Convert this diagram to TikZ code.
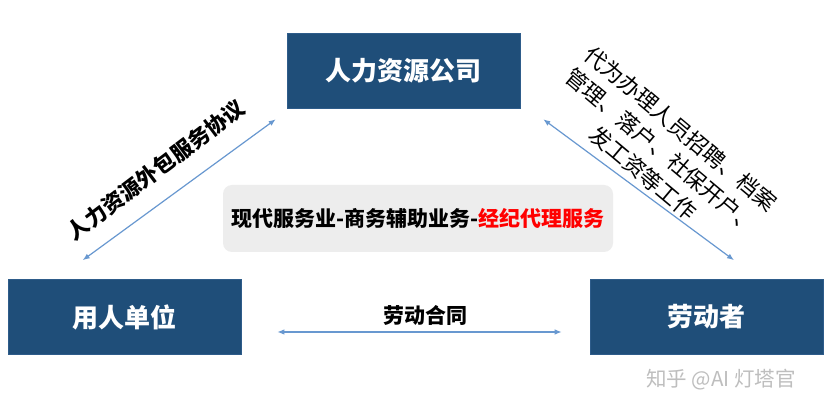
\documentclass[tikz,border=0pt]{standalone}
\usepackage{fontspec}
\setmainfont{Noto Sans CJK SC}
\usetikzlibrary{arrows.meta}
\definecolor{boxblue}{RGB}{31,78,121}
\definecolor{boxedge}{RGB}{46,92,138}
\definecolor{arrowblue}{RGB}{104,152,208}
\definecolor{graybox}{RGB}{237,237,237}
\definecolor{wmgray}{RGB}{190,190,190}
\tikzset{
  bluebox/.style={draw=boxedge, line width=0.6pt, fill=boxblue, text=white,
    minimum width=233pt, minimum height=75pt, inner sep=0pt,
    font=\fontsize{26}{30}\selectfont\bfseries},
  biarrow/.style={draw=arrowblue, line width=1.2pt,
    {Latex[length=7pt,width=5.5pt]}-{Latex[length=7pt,width=5.5pt]}},
  lbl/.style={inner sep=0pt, font=\fontsize{21}{26}\selectfont\bfseries},
}
\begin{document}
\begin{tikzpicture}[x=1pt,y=1pt]
\useasboundingbox (0,0) rectangle (833,415);
\fill[white] (0,0) rectangle (833,415);

\node[bluebox] (top) at (403.5,344.5) {人力资源公司};
\node[bluebox] (left) at (124.5,98) {用人单位};
\node[bluebox] (right) at (706.5,98) {劳动者};

\node[fill=graybox, rounded corners=9pt, minimum width=390pt, minimum height=67pt,
  inner sep=0pt, font=\fontsize{21}{26}\selectfont\bfseries] (cat) at (418,196.5)
  {现代服务业-商务辅助业务-\textcolor{red}{经纪代理服务}};

\draw[biarrow] ([shift={(-11,-11)}]top.south west) -- ([shift={(75,19)}]left.north west);
\draw[biarrow] ([shift={(23,-11)}]top.south east) -- ([shift={(27.5,19)}]right.north);
\draw[biarrow] ([shift={(36,-15)}]left.east) -- ([shift={(-28,-15)}]right.west);

\node[lbl] (contract) at (425,100) {劳动合同};
\node[lbl, rotate=37, font=\fontsize{21.5}{26}\selectfont\bfseries] (outsrc) at (156,245) {人力资源外包服务协议};
\node[inner sep=0pt, rotate=-40, align=center, font=\fontsize{22}{29}\selectfont] (duty) at (662,264)
  {代为办理人员招聘、档案\\管理、落户、社保开户、\\发工资等工作};

\node[inner sep=0pt, text=wmgray, font=\fontsize{20.5}{24}\selectfont] (wm) at (721,35) {知乎 @AI 灯塔官};
\end{tikzpicture}
\end{document}
